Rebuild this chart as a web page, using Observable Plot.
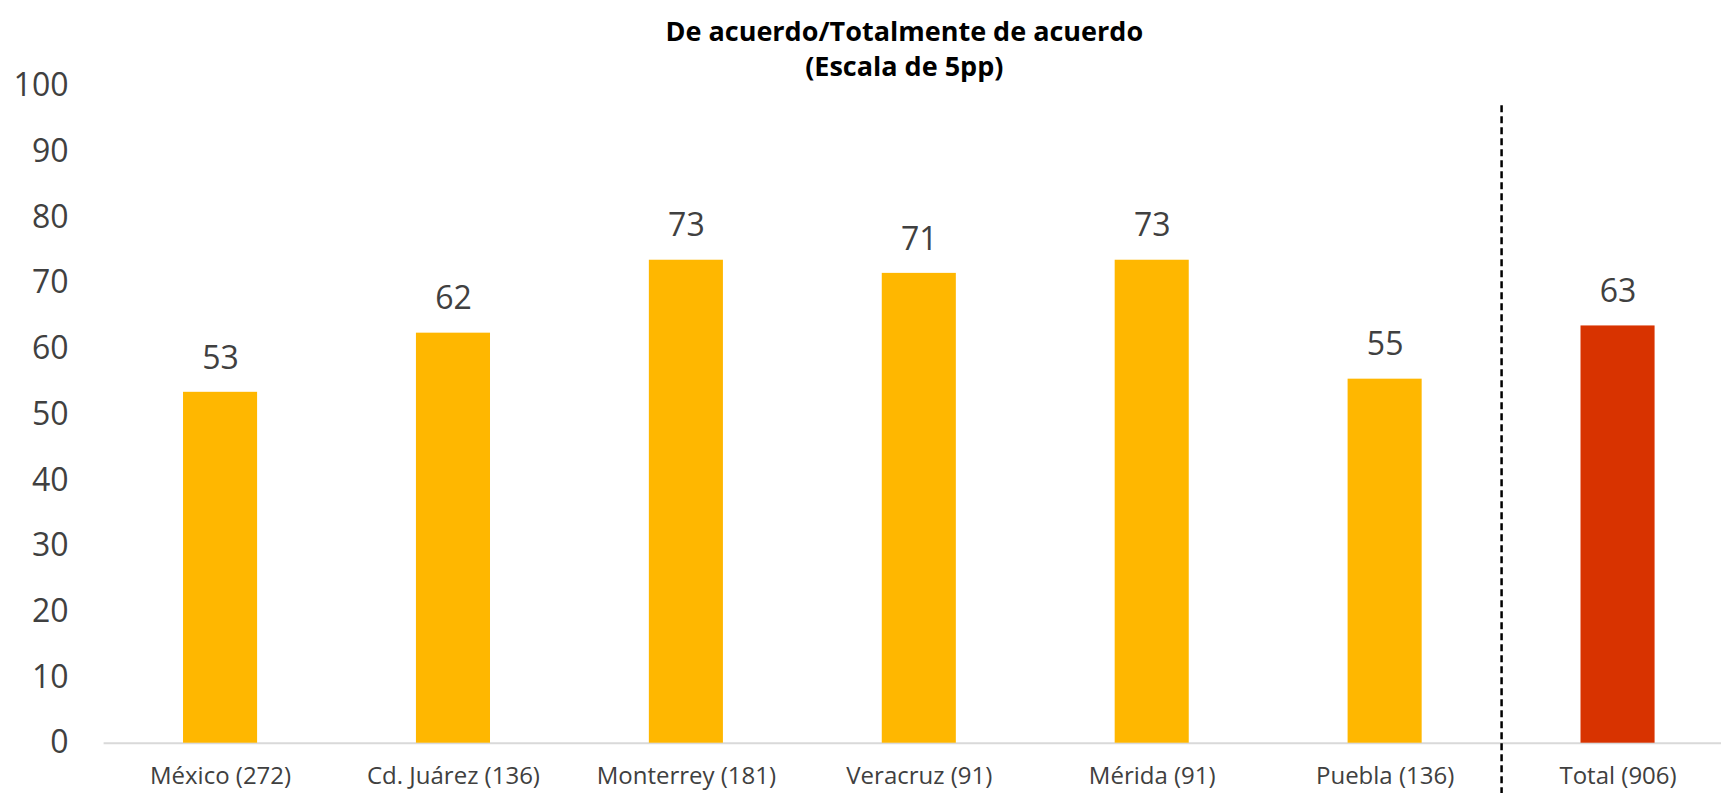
<!DOCTYPE html>
<html>
<head>
<meta charset="utf-8">
<script src="https://cdn.jsdelivr.net/npm/d3@7"></script>
<script src="https://cdn.jsdelivr.net/npm/@observablehq/plot@0.6"></script>
<style>
  html, body { margin: 0; padding: 0; background: #fff; }
  #chart { width: 1721px; height: 793px; overflow: hidden; }
</style>
</head>
<body>
<div id="chart"></div>
<script>
// ---- data ----
const categories = ["México (272)", "Cd. Juárez (136)", "Monterrey (181)", "Veracruz (91)", "Mérida (91)", "Puebla (136)", "Total (906)"];
const values = [53.4, 62.4, 73.5, 71.5, 73.5, 55.4, 63.5];
const labels = ["53", "62", "73", "71", "73", "55", "63"];
const groups = ["city", "city", "city", "city", "city", "city", "total"];
const yTicks = [0, 10, 20, 30, 40, 50, 60, 70, 80, 90, 100];
const titleLines = ["De acuerdo/Totalmente de acuerdo", "(Escala de 5pp)"];
const dividerAfter = "Puebla (136)";
const dividerRange = [97, -8];

const data = categories.map((c, i) => ({ cat: c, value: values[i], label: labels[i], group: groups[i] }));

const W = 1721, H = 793;
const mL = 103.6, mR = -13, mT = 85.6, mB = 50.3;
const step = (W - mL - mR) / categories.length;

const chart = Plot.plot({
  width: W,
  height: H,
  marginLeft: mL,
  marginRight: mR,
  marginTop: mT,
  marginBottom: mB,
  style: { fontFamily: "'Open Sans', sans-serif", background: "#fff", overflow: "visible" },
  x: { domain: categories, paddingInner: 0.682, paddingOuter: 0.341, round: false, label: null },
  y: { domain: [0, 100], label: null },
  color: { domain: ["city", "total"], range: ["#FFB700", "#D83300"] },
  marks: [
    Plot.ruleY([0], { stroke: "#d9d9d9", strokeWidth: 2 }),
    Plot.barY(data, { x: "cat", y: "value", fill: "group" }),
    Plot.text(data, { x: "cat", y: "value", text: "label", dy: -34, fontSize: 32, fill: "#404040", lineAnchor: "middle" }),
    Plot.ruleX([dividerAfter], { y1: dividerRange[0], y2: dividerRange[1], dx: step / 2, stroke: "#000", strokeWidth: 2.5, strokeDasharray: "7,4", clip: false }),
    Plot.axisY({ ticks: yTicks, tickSize: 0, tickPadding: 35.6, fontSize: 32, color: "#404040", label: null }),
    Plot.axisX({ tickSize: 0, tickPadding: 24, fontSize: 24, color: "#404040", fontFamily: "'Open Sans', sans-serif", label: null }),
    Plot.text([titleLines.join("\n")], { frameAnchor: "top", dx: -15, dy: -38.6, lineAnchor: "middle", lineHeight: 1.3, fontSize: 27, fontWeight: "bold", fill: "#000", fontFamily: "'Open Sans', sans-serif" })
  ]
});
document.getElementById("chart").appendChild(chart);
</script>
</body>
</html>
